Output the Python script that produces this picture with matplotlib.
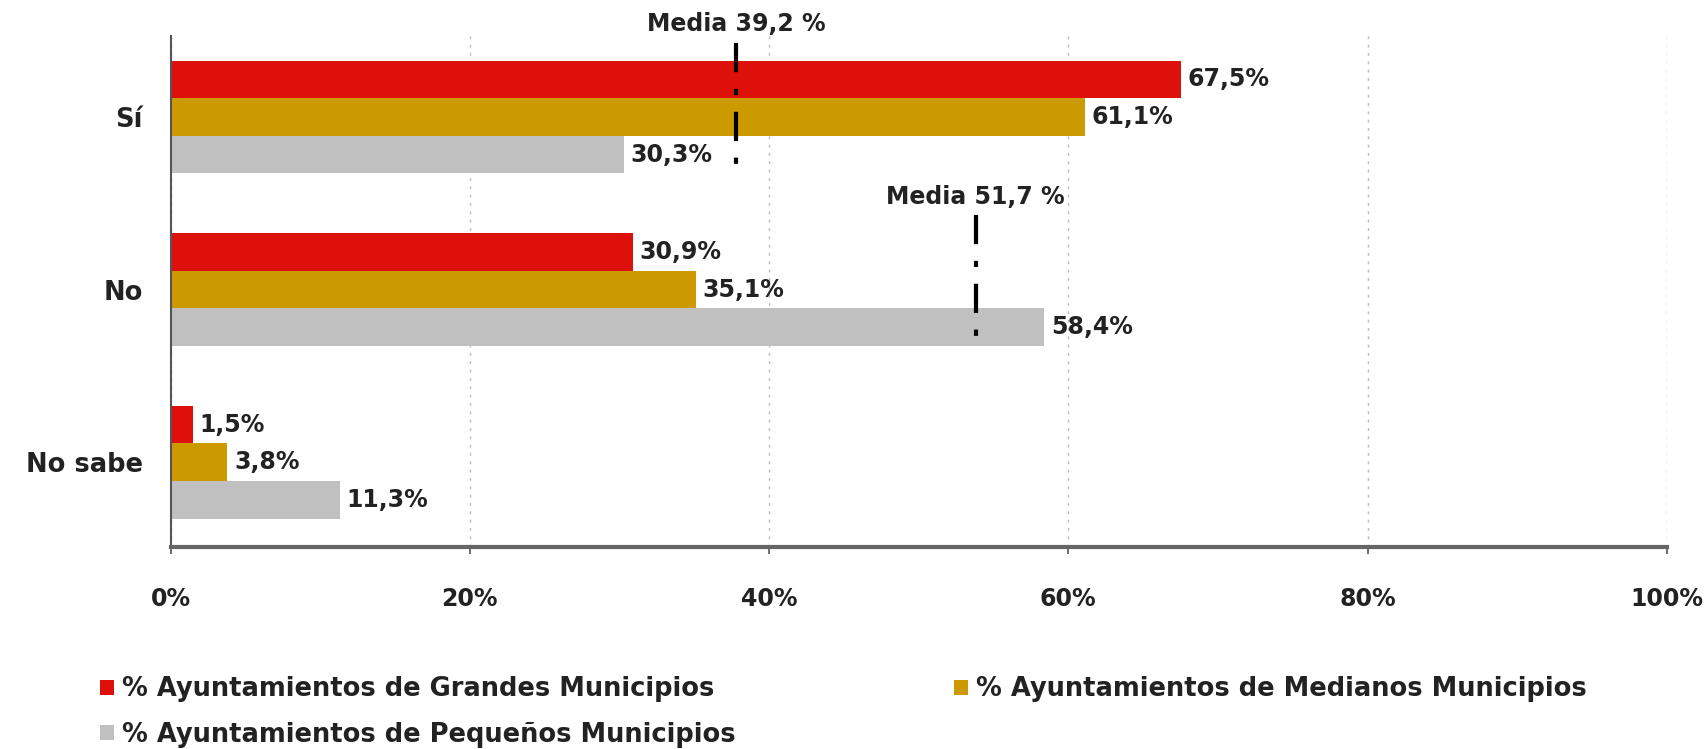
import numpy as np
import matplotlib
matplotlib.use('Agg')
import matplotlib.pyplot as plt

# =============================================================================
# Data
# =============================================================================

categories = ['Sí', 'No', 'No sabe']
series_names = ['% Ayuntamientos de Grandes Municipios',
                '% Ayuntamientos de Medianos Municipios',
                '% Ayuntamientos de Pequeños Municipios']
grandes = [67.5, 30.9, 1.5]
medianos = [61.1, 35.1, 3.8]
pequenos = [30.3, 58.4, 11.3]
bar_labels = [['67,5%', '30,9%', '1,5%'],
              ['61,1%', '35,1%', '3,8%'],
              ['30,3%', '58,4%', '11,3%']]

media_labels = ['Media 39,2 %', 'Media 51,7 %']
media_pos = [37.8, 53.8]     # where the dashed marks sit in the picture
media_cat = [0, 1]

xticks = [0, 20, 40, 60, 80, 100]
xtick_labels = ['0%', '20%', '40%', '60%', '80%', '100%']

colors = ['#DE100B', '#CC9900', '#C0C0C0']

# =============================================================================
# Plot
# =============================================================================

plt.rcParams['font.family'] = ['DejaVu Sans']
txt_col = '#222222'

fig = plt.figure(figsize=(17.06, 7.49), dpi=100)
ax = fig.add_axes([0.100, 0.270, 0.877, 0.682])

y = np.arange(len(categories))
h = 0.218
series = [grandes, medianos, pequenos]

handles = []
for i, vals in enumerate(series):
    pos = y + (i - 1) * h
    b = ax.barh(pos, vals, height=h, color=colors[i], label=series_names[i], zorder=2)
    handles.append(b)
    for p, v, lab in zip(pos, vals, bar_labels[i]):
        ax.text(v + 0.45, p, lab, va='center', ha='left', fontsize=17,
                fontweight='bold', color=txt_col)

for xm, ci, lab in zip(media_pos, media_cat, media_labels):
    ax.plot([xm, xm], [ci - 0.43, ci + 0.33], color='black', lw=3,
            linestyle=(0, (7, 4, 1.5, 4)), zorder=3, clip_on=False)
    ax.text(xm, ci - 0.47, lab, ha='center', va='bottom', fontsize=17,
            fontweight='bold', color=txt_col, clip_on=False)

ax.set_xlim(0, 100)
ax.set_ylim(2.49, -0.47)
ax.set_yticks(y)
ax.set_yticklabels(categories, fontsize=18.5, fontweight='bold', color=txt_col)
ax.tick_params(axis='y', length=0, pad=20)
ax.set_xticks(xticks)
ax.set_xticklabels(xtick_labels, fontsize=17, fontweight='bold', color=txt_col)
ax.tick_params(axis='x', length=5, width=1.2, color='#555555', pad=24)

ax.grid(axis='x', linestyle=(0, (2, 4)), color='#BBBBBB', lw=1, zorder=0)
for s in ['top', 'right']:
    ax.spines[s].set_visible(False)
ax.spines['left'].set_color('#555555')
ax.spines['left'].set_linewidth(1.5)
ax.spines['bottom'].set_color('#666666')
ax.spines['bottom'].set_linewidth(3)

# row-major order: Grandes, Medianos / Pequeños
leg = fig.legend([handles[0], handles[2], handles[1]],
                 [series_names[0], series_names[2], series_names[1]],
                 ncol=2, loc='upper left', bbox_to_anchor=(0.0586, 0.097),
                 frameon=False, fontsize=18.5, handlelength=0.55, handleheight=0.55,
                 handletextpad=0.3, columnspacing=8.5, labelspacing=0.75,
                 borderpad=0, borderaxespad=0)
for t in leg.get_texts():
    t.set_fontweight('bold')
    t.set_color(txt_col)

plt.savefig('out.png', dpi=100)
